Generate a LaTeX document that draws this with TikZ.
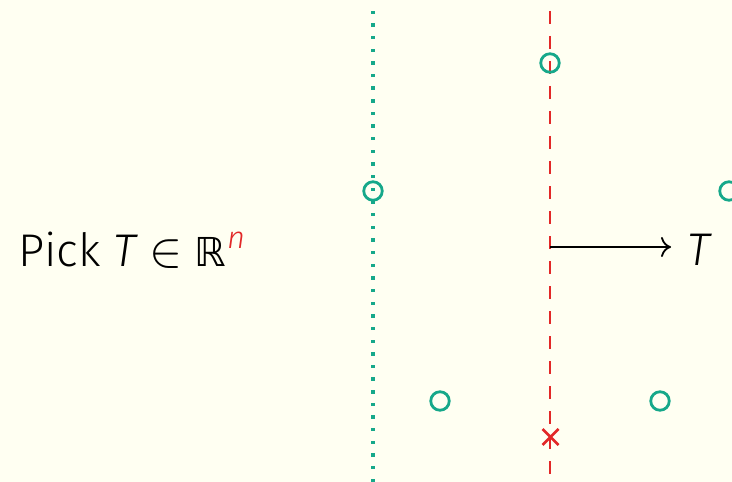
\documentclass[tikz,border=0pt]{standalone}
\usepackage{fontspec}
\setmainfont{Fira Sans}[UprightFont=* Light, ItalicFont=* Light Italic]
\newfontfamily\symfont{DejaVu Sans}
\usetikzlibrary{arrows.meta}
\definecolor{bg}{RGB}{255,255,242}
\definecolor{teal}{RGB}{22,168,138}
\definecolor{myred}{RGB}{226,40,40}
\tikzset{
  pt/.style={circle, draw=teal, line width=2.8bp, minimum size=18.5bp, inner sep=0pt},
  dashline/.style={myred, line width=2.2bp, dash pattern=on 13bp off 12bp},
  lbl/.style={font=\fontsize{46}{52}\selectfont, inner sep=0pt, anchor=base west}
}
\begin{document}
\begin{tikzpicture}[x=1bp,y=-1bp]
\fill[bg] (0,0) rectangle (732,482);
\useasboundingbox (0,0) rectangle (732,482);
\foreach \k in {0,...,37} {
  \fill[teal] (371.3,{12.3+12.65*\k-1.7}) rectangle (374.7,{12.3+12.65*\k+1.7});
}
\coordinate (rtop) at (550,11);
\coordinate (rbot) at (550,482);
\draw[dashline] (rtop) -- (rbot);
\node[pt] (p1) at (550,63) {};
\node[pt] (p2) at (373,191) {};
\node[pt] (p3) at (729,191) {};
\node[pt] (p4) at (440,401) {};
\node[pt] (p5) at (660,401) {};
\coordinate (x) at (550.5,437);
\draw[myred, line width=2.8bp] ([shift={(-8,-8)}]x) -- ([shift={(8,8)}]x) ([shift={(-8,8)}]x) -- ([shift={(8,-8)}]x);
\coordinate (o) at (550,247);
\node[lbl] (t) at (687,266) {\itshape T};
\draw[line width=1.8bp, -{To[length=10bp,width=20bp]}] (o) -- (671,247);
\node[lbl] (pick) at (18,267) {Pick \itshape T\upshape\hspace{0.3em}\raisebox{0.5bp}{\scalebox{2.0}{$\in$}}\hspace{0.25em}{\symfont\fontsize{40}{40}\selectfont ℝ}\hspace{0.03em}\raisebox{18bp}{\fontsize{31}{31}\selectfont\color{myred}\itshape n}};
\end{tikzpicture}
\end{document}
